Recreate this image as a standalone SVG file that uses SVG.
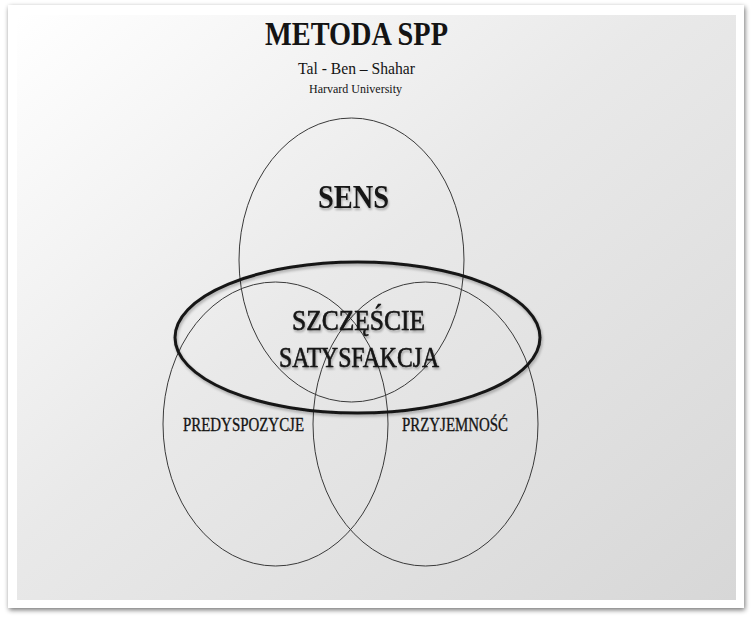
<svg xmlns="http://www.w3.org/2000/svg" width="753" height="620" viewBox="0 0 753 620">
  <defs>
    <linearGradient id="bg" x1="0" y1="0" x2="1" y2="1">
      <stop offset="0" stop-color="#ffffff"/>
      <stop offset="0.45" stop-color="#e9e9e9"/>
      <stop offset="1" stop-color="#d7d7d7"/>
    </linearGradient>
    <filter id="shadow" x="-5%" y="-5%" width="110%" height="110%">
      <feGaussianBlur in="SourceAlpha" stdDeviation="2.5"/>
      <feOffset dx="1" dy="2" result="b"/>
      <feComponentTransfer><feFuncA type="linear" slope="0.55"/></feComponentTransfer>
      <feMerge><feMergeNode/><feMergeNode in="SourceGraphic"/></feMerge>
    </filter>
    <filter id="soft" x="-10%" y="-20%" width="120%" height="140%">
      <feGaussianBlur in="SourceAlpha" stdDeviation="1.5"/>
      <feOffset dx="1" dy="2"/>
      <feComponentTransfer><feFuncA type="linear" slope="0.3"/></feComponentTransfer>
      <feMerge><feMergeNode/><feMergeNode in="SourceGraphic"/></feMerge>
    </filter>
    <filter id="tshadow" x="-10%" y="-30%" width="120%" height="160%">
      <feGaussianBlur in="SourceAlpha" stdDeviation="1"/>
      <feOffset dx="1" dy="1.5"/>
      <feComponentTransfer><feFuncA type="linear" slope="0.3"/></feComponentTransfer>
      <feMerge><feMergeNode/><feMergeNode in="SourceGraphic"/></feMerge>
    </filter>
  </defs>
  <style>
    .serif { font-family: "Liberation Serif", "Times New Roman", serif; fill: #141414; text-anchor: middle; }
    .heavy { stroke: #141414; stroke-width: 0.6; }
    .mid { stroke: #141414; stroke-width: 0.3; }
    .thin { fill: none; stroke: #3a3a3a; stroke-width: 1; }
    .thick { fill: none; stroke: #151515; stroke-width: 3; }
  </style>
  <rect x="0" y="0" width="753" height="620" fill="#ffffff"/>
  <g id="frame">
    <rect x="8" y="5" width="736" height="603" fill="#ffffff" filter="url(#shadow)"/>
    <rect x="17" y="15" width="719" height="585" fill="url(#bg)"/>
  </g>
  <g id="title">
    <text class="serif" x="356.5" y="45" font-size="33" font-weight="bold" textLength="183" lengthAdjust="spacingAndGlyphs">METODA SPP</text>
    <text class="serif" x="356.5" y="74" font-size="17" textLength="117" lengthAdjust="spacingAndGlyphs">Tal - Ben – Shahar</text>
    <text class="serif" x="355.5" y="93" font-size="11.5" textLength="93" lengthAdjust="spacingAndGlyphs">Harvard University</text>
  </g>
  <g id="connectors"/>
  <g id="node-sens">
    <ellipse class="thin" cx="351.5" cy="260" rx="112.5" ry="142"/>
    <text class="serif" x="353.5" y="208" font-size="33" font-weight="bold" textLength="71" lengthAdjust="spacingAndGlyphs" filter="url(#tshadow)">SENS</text>
  </g>
  <g id="node-predyspozycje">
    <ellipse class="thin" cx="275.5" cy="424" rx="112.5" ry="142"/>
    <text class="serif mid" x="243.5" y="431" font-size="18" textLength="121" lengthAdjust="spacingAndGlyphs">PREDYSPOZYCJE</text>
  </g>
  <g id="node-przyjemnosc">
    <ellipse class="thin" cx="425.5" cy="424" rx="112.5" ry="142"/>
    <text class="serif mid" x="455" y="431" font-size="18" textLength="106" lengthAdjust="spacingAndGlyphs">PRZYJEMNOŚĆ</text>
  </g>
  <g id="node-szczescie">
    <ellipse class="thick" cx="357.5" cy="337.5" rx="182.5" ry="75.5" filter="url(#soft)"/>
    <text class="serif heavy" x="358.5" y="330" font-size="30" textLength="133" lengthAdjust="spacingAndGlyphs" filter="url(#tshadow)">SZCZĘŚCIE</text>
    <text class="serif heavy" x="359" y="367" font-size="30" textLength="160" lengthAdjust="spacingAndGlyphs" filter="url(#tshadow)">SATYSFAKCJA</text>
  </g>
</svg>
